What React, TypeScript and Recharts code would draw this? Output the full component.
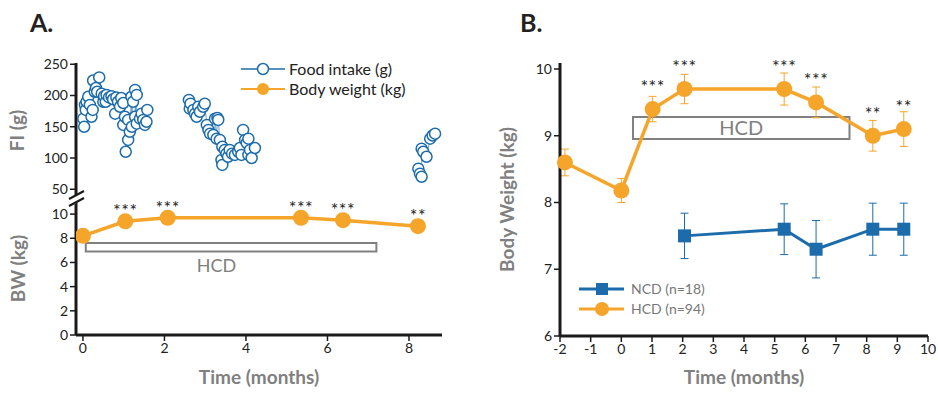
import React from 'react'
import {
  ComposedChart,
  Line,
  Scatter,
  XAxis,
  YAxis,
  ReferenceArea,
  ErrorBar,
  LabelList,
  Label,
} from 'recharts'

const ORANGE = '#f5a52a'
const BLUE = '#1c6cab'
const INK = '#1a1a1a'
const GREY = '#808080'
const FONT = 'Lato, "Open Sans", sans-serif'

// Panel A - food intake, three recording blocks: [months, grams]
const fiBlock1: [number, number][] = [
  [0.01, 163], [0.03, 150], [0.05, 185], [0.07, 177], [0.09, 190], [0.13, 198],
  [0.17, 185], [0.21, 166], [0.24, 177], [0.25, 224], [0.29, 206], [0.32, 212],
  [0.35, 206], [0.4, 229], [0.46, 203], [0.5, 190], [0.52, 199], [0.56, 190],
  [0.58, 201], [0.64, 197], [0.7, 199], [0.74, 194], [0.79, 171], [0.82, 197],
  [0.86, 190], [0.91, 182], [0.94, 196], [0.99, 188], [0.99, 153], [1.03, 166],
  [1.05, 110], [1.11, 129], [1.11, 161], [1.15, 142], [1.19, 198], [1.2, 150],
  [1.23, 190], [1.28, 209], [1.28, 166], [1.32, 201], [1.32, 155], [1.4, 163],
  [1.44, 171], [1.48, 161], [1.52, 153], [1.56, 158], [1.58, 177],
]
const fiBlock2: [number, number][] = [
  [2.6, 193], [2.62, 179], [2.64, 187], [2.71, 177], [2.75, 171], [2.79, 166],
  [2.83, 182], [2.87, 174], [2.95, 182], [2.99, 187], [3.04, 153], [3.08, 145],
  [3.12, 139], [3.2, 137], [3.24, 163], [3.28, 131], [3.3, 164], [3.32, 161],
  [3.36, 129], [3.4, 97], [3.42, 89], [3.42, 118], [3.48, 113], [3.52, 107],
  [3.56, 102], [3.6, 113], [3.66, 107], [3.73, 105], [3.81, 110], [3.85, 116],
  [3.89, 105], [3.93, 145], [3.98, 129], [4.02, 124], [4.06, 131], [4.06, 105],
  [4.1, 113], [4.14, 100], [4.22, 116],
]
const fiBlock3: [number, number][] = [
  [8.23, 83], [8.27, 75], [8.31, 70], [8.31, 115], [8.35, 110], [8.43, 102],
  [8.52, 131], [8.58, 136], [8.64, 139],
]

// Panel A - body weight
const bwMonthsA = [0, 1.04, 2.08, 5.35, 6.38, 8.22]
const bwKgA = [8.2, 9.4, 9.7, 9.7, 9.5, 9.0]
const bwSigA = ['', '***', '***', '***', '***', '**']

// Panel B - HCD group
const hcdMonths = [-1.84, 0, 1.02, 2.06, 5.31, 6.35, 8.2, 9.21]
const hcdKg = [8.6, 8.18, 9.4, 9.7, 9.7, 9.5, 9.0, 9.1]
const hcdSem = [0.2, 0.18, 0.19, 0.22, 0.24, 0.23, 0.23, 0.26]
const hcdSig = ['', '', '***', '***', '***', '***', '**', '**']

// Panel B - NCD group
const ncdMonths = [2.06, 5.31, 6.35, 8.2, 9.21]
const ncdKg = [7.5, 7.6, 7.3, 7.6, 7.6]
const ncdSem = [0.34, 0.38, 0.43, 0.39, 0.39]

const ticksA = [0, 2, 4, 6, 8]
const ticksB = [-2, -1, 0, 1, 2, 3, 4, 5, 6, 7, 8, 9, 10]

const toRows = (block: [number, number][]) => block.map(([t, fi]) => ({ t, fi }))
const fiBlocks = [fiBlock1, fiBlock2, fiBlock3].map(toRows)
const bwA = bwMonthsA.map((t, i) => ({ t, kg: bwKgA[i], sig: bwSigA[i] }))
const hcdB = hcdMonths.map((t, i) => ({ t, kg: hcdKg[i], sem: hcdSem[i], sig: hcdSig[i] }))
const ncdB = ncdMonths.map((t, i) => ({ t, kg: ncdKg[i], sem: ncdSem[i] }))

const tickStyle = { fill: '#222', fontSize: 14, fontFamily: FONT }
const axisLine = { stroke: INK, strokeWidth: 3 }
const tickLine = { stroke: INK, strokeWidth: 1.5 }

const sideTitle = (text: string, cx: number) => (props: any) => {
  const vb = props.viewBox || {}
  const cy = vb.y + vb.height / 2
  return (
    <text
      x={cx}
      y={cy}
      transform={`rotate(-90 ${cx} ${cy})`}
      textAnchor="middle"
      dominantBaseline="central"
      fill={GREY}
      fontSize={19}
      fontWeight={700}
      fontFamily={FONT}
    >
      {text}
    </text>
  )
}

const stars = (lift: number) => (props: any) => {
  const x = props.x ?? props.viewBox?.x
  const y = props.y ?? props.viewBox?.y
  if (!props.value) return null
  return (
    <text x={x} y={y - lift} textAnchor="middle" fontSize={18} fill="#222" fontFamily={FONT} letterSpacing={0.5}>
      {props.value}
    </text>
  )
}

const hollowCircle = (p: any) => (
  <circle cx={p.cx} cy={p.cy} r={5.5} fill="#fff" stroke={BLUE} strokeWidth={1.5} />
)

const square = (p: any) => (
  <rect key={`sq-${p.index}`} x={p.cx - 6.5} y={p.cy - 6.5} width={13} height={13} fill={BLUE} />
)

const hcdUnder = (props: any) => {
  const vb = props.viewBox || {}
  return (
    <text x={vb.x + vb.width * 0.45} y={vb.y + vb.height + 20} textAnchor="middle" fontSize={18} fill={GREY} fontFamily={FONT}>
      HCD
    </text>
  )
}

const abs = (left: number): React.CSSProperties => ({ position: 'absolute', left, top: 0 })

export default function App() {
  return (
    <div style={{ position: 'absolute', left: 0, top: 0, width: 938, height: 394, background: '#fff', fontFamily: FONT }}>
      {/* A: food intake (upper, broken axis) */}
      <div style={abs(0)}>
        <ComposedChart width={460} height={394} margin={{ top: 63, right: 18, bottom: 196, left: 0 }}>
          <XAxis type="number" dataKey="t" domain={[-0.17, 8.81]} hide height={0} allowDataOverflow />
          <YAxis
            type="number"
            dataKey="fi"
            domain={[36, 252]}
            ticks={[50, 100, 150, 200, 250]}
            width={76}
            tick={tickStyle}
            axisLine={axisLine}
            tickLine={tickLine}
            tickSize={6}
            allowDataOverflow
          >
            <Label content={sideTitle('FI (g)', 16)} />
          </YAxis>
          {fiBlocks.map((rows, i) => (
            <Scatter
              key={i}
              data={rows}
              dataKey="fi"
              line={{ stroke: BLUE, strokeWidth: 0.6 }}
              shape={hollowCircle}
              isAnimationActive={false}
            />
          ))}
        </ComposedChart>
      </div>

      {/* A: body weight (lower) */}
      <div style={abs(0)}>
        <ComposedChart width={460} height={394} margin={{ top: 202, right: 18, bottom: 0, left: 0 }}>
          <XAxis
            type="number"
            dataKey="t"
            domain={[-0.17, 8.81]}
            ticks={ticksA}
            height={59}
            tick={tickStyle}
            axisLine={axisLine}
            tickLine={tickLine}
            tickSize={6}
            allowDataOverflow
          >
            <Label value="Time (months)" position="insideBottom" offset={10} fill={GREY} fontSize={19} fontWeight={700} fontFamily={FONT} />
          </XAxis>
          <YAxis
            type="number"
            domain={[0, 11]}
            ticks={[0, 2, 4, 6, 8, 10]}
            width={76}
            tick={tickStyle}
            axisLine={axisLine}
            tickLine={tickLine}
            tickSize={6}
          >
            <Label content={sideTitle('BW (kg)', 17)} />
          </YAxis>
          <ReferenceArea x1={0.07} x2={7.2} y1={6.9} y2={7.6} fill="#fff" fillOpacity={1} stroke={GREY} strokeWidth={2}>
            <Label content={hcdUnder} />
          </ReferenceArea>
          <Line
            data={bwA}
            dataKey="kg"
            stroke={ORANGE}
            strokeWidth={3.5}
            dot={{ r: 8, fill: ORANGE, stroke: ORANGE, strokeWidth: 0 }}
            isAnimationActive={false}
          >
            <LabelList dataKey="sig" content={stars(4)} />
          </Line>
        </ComposedChart>
      </div>

      {/* B */}
      <div style={abs(480)}>
        <ComposedChart width={458} height={394} margin={{ top: 63, right: 10, bottom: 0, left: 0 }}>
          <XAxis
            type="number"
            dataKey="t"
            domain={[-2, 10]}
            ticks={ticksB}
            height={58}
            tick={tickStyle}
            axisLine={axisLine}
            tickLine={tickLine}
            tickSize={6}
            interval={0}
          >
            <Label value="Time (months)" position="insideBottom" offset={10} fill={GREY} fontSize={19} fontWeight={700} fontFamily={FONT} />
          </XAxis>
          <YAxis
            type="number"
            domain={[6, 10.09]}
            ticks={[6, 7, 8, 9, 10]}
            width={80}
            tick={tickStyle}
            axisLine={axisLine}
            tickLine={tickLine}
            tickSize={6}
          >
            <Label content={sideTitle('Body Weight (kg)', 26)} />
          </YAxis>
          <ReferenceArea x1={0.38} x2={7.44} y1={8.95} y2={9.28} fill="none" stroke={GREY} strokeWidth={2}>
            <Label value="HCD" position="center" fill={GREY} fontSize={20} fontFamily={FONT} />
          </ReferenceArea>
          <Line data={ncdB} dataKey="kg" stroke={BLUE} strokeWidth={3} dot={square} isAnimationActive={false}>
            <ErrorBar dataKey="sem" width={4} stroke={BLUE} strokeWidth={1} direction="y" />
          </Line>
          <Line
            data={hcdB}
            dataKey="kg"
            stroke={ORANGE}
            strokeWidth={3.5}
            dot={{ r: 8, fill: ORANGE, stroke: ORANGE, strokeWidth: 0 }}
            isAnimationActive={false}
          >
            <ErrorBar dataKey="sem" width={4} stroke={ORANGE} strokeWidth={1} direction="y" />
            <LabelList dataKey="sig" content={stars(16)} />
          </Line>
        </ComposedChart>
      </div>

      {/* titles, axis break, legends */}
      <svg width={938} height={394} style={{ position: 'absolute', left: 0, top: 0, pointerEvents: 'none' }}>
        <text x={30} y={32} fontSize={25} fontWeight={700} fill="#222" fontFamily={FONT}>A.</text>
        <text x={520} y={32} fontSize={25} fontWeight={700} fill="#222" fontFamily={FONT}>B.</text>

        <polygon points="69,199 84,191 84,199 69,207" fill="#fff" />
        <line x1={69} y1={199} x2={84} y2={191} stroke={INK} strokeWidth={2} />
        <line x1={69} y1={206} x2={84} y2={198} stroke={INK} strokeWidth={2} />

        <line x1={241} y1={69} x2={285} y2={69} stroke={BLUE} strokeWidth={1.5} />
        <circle cx={263} cy={69} r={5.5} fill="#fff" stroke={BLUE} strokeWidth={1.5} />
        <text x={289} y={75} fontSize={16} fill="#222" fontFamily={FONT}>Food intake (g)</text>
        <line x1={241} y1={89} x2={285} y2={89} stroke={ORANGE} strokeWidth={2} />
        <circle cx={263} cy={89} r={6} fill={ORANGE} />
        <text x={289} y={95} fontSize={16} fill="#222" fontFamily={FONT}>Body weight (kg)</text>

        <line x1={579} y1={289} x2={624} y2={289} stroke={BLUE} strokeWidth={3} />
        <rect x={596} y={283} width={12} height={12} fill={BLUE} />
        <text x={631} y={294} fontSize={14} fill="#777" fontFamily={FONT}>NCD (n=18)</text>
        <line x1={579} y1={309} x2={624} y2={309} stroke={ORANGE} strokeWidth={3} />
        <circle cx={602} cy={309} r={7} fill={ORANGE} />
        <text x={631} y={314} fontSize={14} fill="#777" fontFamily={FONT}>HCD (n=94)</text>
      </svg>
    </div>
  )
}
